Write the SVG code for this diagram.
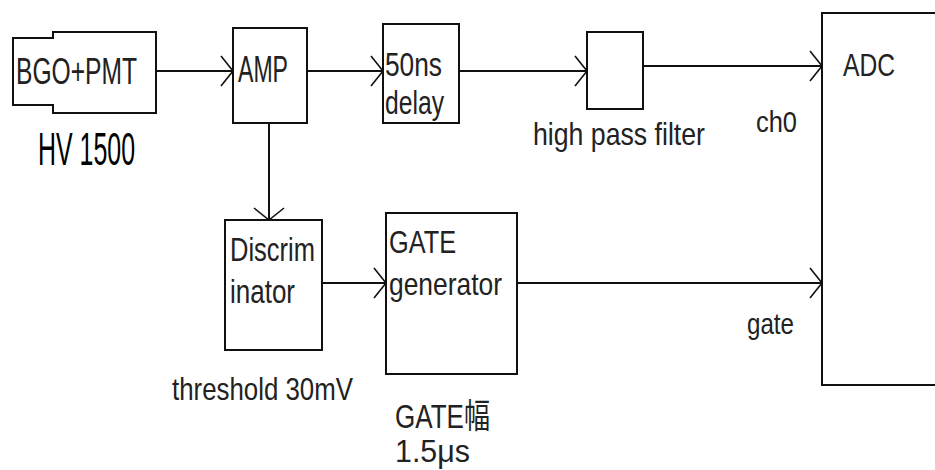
<svg xmlns="http://www.w3.org/2000/svg" width="935" height="470" viewBox="0 0 935 470">
<defs>
<marker id="arr" markerUnits="userSpaceOnUse" markerWidth="16" markerHeight="34" refX="13" refY="16" orient="auto">
<path d="M1,1 L13,16 L1,31" fill="none" stroke="#111" stroke-width="1.6"/>
</marker>
<style>
.box{fill:#fff;stroke:#111;stroke-width:2}
.ln{fill:none;stroke:#111;stroke-width:2}
text{font-family:"Liberation Sans","Noto Sans CJK JP",sans-serif;fill:#222}
.t{font-size:33px}
</style>
</defs>
<rect width="935" height="470" fill="#fff"/>
<g id="connectors">
<line class="ln" x1="156" y1="71" x2="233" y2="71" marker-end="url(#arr)"/>
<line class="ln" x1="307" y1="71" x2="383" y2="71" marker-end="url(#arr)"/>
<line class="ln" x1="459" y1="71" x2="587" y2="71" marker-end="url(#arr)"/>
<line class="ln" x1="643" y1="66" x2="822" y2="66" marker-end="url(#arr)"/>
<line class="ln" x1="269" y1="123" x2="269" y2="220" marker-end="url(#arr)"/>
<line class="ln" x1="322" y1="283" x2="386" y2="283" marker-end="url(#arr)"/>
<line class="ln" x1="517" y1="283" x2="822" y2="283" marker-end="url(#arr)"/>
</g>
<g id="bgo">
<path class="box" d="M53,38 H13 V105 H53 V113 H156 V32 H53 Z"/>
<text x="16" y="84" font-size="36" textLength="121" lengthAdjust="spacingAndGlyphs">BGO+PMT</text>
<text x="38" y="165" font-size="46" textLength="97" lengthAdjust="spacingAndGlyphs" style="fill:#000">HV 1500</text>
</g>
<g id="amp">
<rect class="box" x="233" y="28" width="74" height="95"/>
<text x="238" y="82" font-size="36" textLength="50" lengthAdjust="spacingAndGlyphs">AMP</text>
</g>
<g id="delay">
<rect class="box" x="383" y="24" width="76" height="99"/>
<text class="t" x="385" y="76" textLength="57" lengthAdjust="spacingAndGlyphs">50ns</text>
<text class="t" x="385" y="114" textLength="59" lengthAdjust="spacingAndGlyphs">delay</text>
</g>
<g id="hpf">
<rect class="box" x="587" y="32" width="56" height="77"/>
<text x="533" y="145" font-size="32" textLength="172" lengthAdjust="spacingAndGlyphs">high pass filter</text>
</g>
<g id="adc">
<rect class="box" x="822" y="13" width="150" height="372"/>
<text x="843" y="76" font-size="32" textLength="52" lengthAdjust="spacingAndGlyphs">ADC</text>
<text x="756" y="132" font-size="30" textLength="41" lengthAdjust="spacingAndGlyphs">ch0</text>
<text x="747" y="334" font-size="30" textLength="47" lengthAdjust="spacingAndGlyphs">gate</text>
</g>
<g id="discriminator">
<rect class="box" x="225" y="220" width="97" height="130"/>
<text class="t" x="230" y="261" textLength="85" lengthAdjust="spacingAndGlyphs">Discrim</text>
<text class="t" x="230" y="303" textLength="65" lengthAdjust="spacingAndGlyphs">inator</text>
<text x="172" y="400" font-size="32" textLength="181" lengthAdjust="spacingAndGlyphs">threshold 30mV</text>
</g>
<g id="gate-generator">
<rect class="box" x="386" y="213" width="131" height="161"/>
<text x="389" y="253" font-size="32" textLength="67" lengthAdjust="spacingAndGlyphs">GATE</text>
<text x="389" y="295" font-size="32" textLength="113" lengthAdjust="spacingAndGlyphs">generator</text>
<text x="395" y="428" font-size="34" textLength="95" lengthAdjust="spacingAndGlyphs">GATE幅</text>
<text x="395" y="462" font-size="32" textLength="75" lengthAdjust="spacingAndGlyphs">1.5μs</text>
</g>
</svg>
